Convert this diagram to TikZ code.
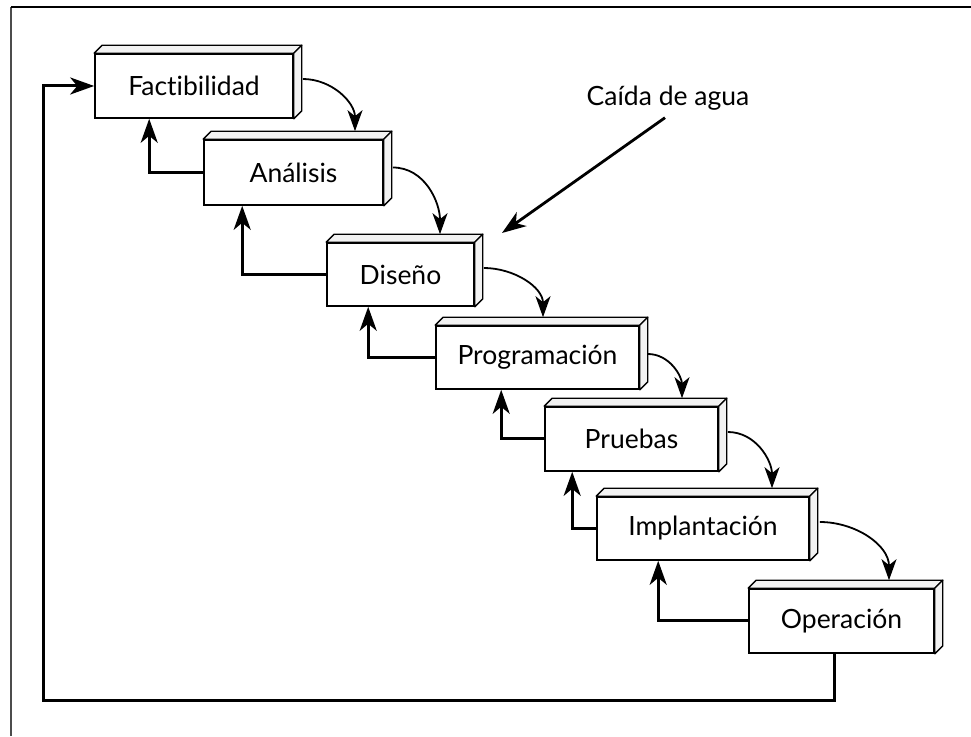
\documentclass[tikz,border=0pt]{standalone}
\usepackage{fontspec}
\setmainfont{Lato}[Ligatures=NoCommon]
\usetikzlibrary{calc,arrows.meta}
\begin{document}
\begin{tikzpicture}[x=1pt,y=1pt,
  stage/.style={draw, line width=1.6pt, fill=white, inner sep=0pt,
                font=\fontsize{26.5}{30}\selectfont},
  face/.style={draw, line width=1.3pt, fill=black!5, line join=round},
  fwd/.style={-{Stealth[length=21pt,width=15pt,inset=6pt]}, line width=1.8pt},
  back/.style={-{Stealth[length=24pt,width=17pt,inset=7pt]}, line width=3pt},
  pointer/.style={-{Stealth[length=24pt,width=17pt,inset=7pt]}, line width=2.8pt},
  frameline/.style={line width=1.6pt}]
\useasboundingbox (0,0) rectangle (971,736);

% outer frame (top and left edges)
\draw[frameline, black!70] (11,0) -- (11,729);
\draw[frameline] (11,729) -- (971,729);

% three-dimensional stage boxes
\newcommand{\slab}[1]{%
  \draw[face] (#1.north west) -- ++(8,8) -- ($(#1.north east)+(8,8)$) -- (#1.north east) -- cycle;
  \draw[face] (#1.north east) -- ++(8,8) -- ($(#1.south east)+(8,8)$) -- (#1.south east) -- cycle;}

\node[stage, minimum width=198pt, minimum height=64pt] (fac)  at (194,650)   {Factibilidad};
\node[stage, minimum width=179pt, minimum height=65pt] (ana)  at (293.5,563.5) {Análisis};
\node[stage, minimum width=147pt, minimum height=63pt] (dis)  at (400.5,461.5) {Diseño};
\node[stage, minimum width=203pt, minimum height=63pt] (prog) at (537.5,378.5) {Programación};
\node[stage, minimum width=173pt, minimum height=64pt] (prue) at (631.5,297)   {Pruebas};
\node[stage, minimum width=212pt, minimum height=63pt] (impl) at (703,207.5)   {Implantación};
\node[stage, minimum width=185pt, minimum height=64pt] (oper) at (841.5,115)   {Operación};

\slab{fac}\slab{ana}\slab{dis}\slab{prog}\slab{prue}\slab{impl}\slab{oper}

% forward flow: each stage drops into the next
\draw[fwd] ($(fac.east)+(9,7)$)    to[out=0,in=90] ($(ana.north)+(61.5,8)$);
\draw[fwd] ($(ana.east)+(9,5)$)    to[out=0,in=90] ($(dis.north)+(39.5,8)$);
\draw[fwd] ($(dis.east)+(9,6.5)$)  to[out=0,in=90] ($(prog.north)+(5.5,8)$);
\draw[fwd] ($(prog.east)+(8,3.5)$) to[out=0,in=90] ($(prue.north)+(50.5,8)$);
\draw[fwd] ($(prue.east)+(9,7)$)   to[out=0,in=90] ($(impl.north)+(69,8)$);
\draw[fwd] ($(impl.east)+(10,6.5)$) to[out=0,in=90] ($(oper.north)+(47.5,8)$);

% feedback to the previous stage
\draw[back] (ana.west)  -| ($(fac.south west)+(55,0)$);
\draw[back] (dis.west)  -| ($(ana.south west)+(39,0)$);
\draw[back] (prog.west) -| ($(dis.south west)+(42,0)$);
\draw[back] (prue.west) -| ($(prog.south west)+(66,0)$);
\draw[back] (impl.west) -| ($(prue.south west)+(28,0)$);
\draw[back] (oper.west) -| ($(impl.south west)+(62,0)$);

% return loop from operation back to feasibility
\coordinate (loop) at (43,36);
\draw[back] ($(oper.south west)+(86,0)$) |- (loop) |- (fac.west);

% waterfall label
\node[font=\fontsize{26.5}{30}\selectfont] (lbl) at (668,638) {Caída de agua};
\coordinate (tip) at (502,503);
\draw[pointer] ($(lbl.south)+(-3,-4)$) -- (tip);
\end{tikzpicture}
\end{document}
